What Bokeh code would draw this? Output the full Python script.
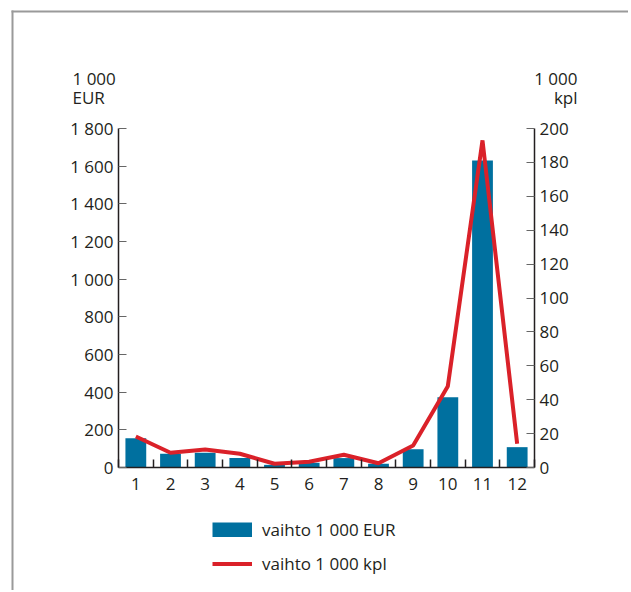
from bokeh.plotting import figure
from bokeh.models import (Range1d, LinearAxis, FixedTicker, Label, Legend, LegendItem,
                          BoxAnnotation, ColumnDataSource)
from bokeh.embed import file_html
from bokeh.resources import INLINE

months = [1, 2, 3, 4, 5, 6, 7, 8, 9, 10, 11, 12]
eur_values = [155, 73, 78, 51, 14, 25, 50, 20, 97, 373, 1630, 108]
kpl_values = [18.3, 8.7, 10.6, 8.1, 2.2, 3.4, 7.5, 2.5, 13, 48, 193, 14]
left_ticks = [0, 200, 400, 600, 800, 1000, 1200, 1400, 1600, 1800]
left_tick_labels = ["0", "200", "400", "600", "800", "1 000", "1 200", "1 400", "1 600", "1 800"]
right_ticks = [0, 20, 40, 60, 80, 100, 120, 140, 160, 180, 200]
month_boundaries = [0.5, 1.5, 2.5, 3.5, 4.5, 5.5, 6.5, 7.5, 8.5, 9.5, 10.5, 11.5, 12.5]
left_title = ["1 000", "EUR"]
right_title = ["1 000", "kpl"]
legend_labels = ["vaihto 1 000 EUR", "vaihto 1 000 kpl"]

FONT = "Open Sans"
TXT = "#231f20"
BLUE = "#00709f"
RED = "#da2129"
TICK = "#666666"
RULE = "#9a9a9a"

# ---- layout geometry (pixels on the canvas) ----
W, H = 628, 590
AX_L, AX_R = 118, 534          # x of left / right axis lines
AX_TOP, AX_BOT = 128, 467      # y of top tick / zero line
X0, X1 = 0.5, 12.5
Y0, Y1 = 0, 1800
K0, K1 = 0, 200

def xr(px):  # canvas px -> x data
    return X0 + (px - AX_L) * (X1 - X0) / (AX_R - AX_L)

def yr(py):  # canvas px -> left-axis data
    return Y0 + (AX_BOT - py) * (Y1 - Y0) / (AX_BOT - AX_TOP)

def kr(py):
    return K0 + (AX_BOT - py) * (K1 - K0) / (AX_BOT - AX_TOP)

src = ColumnDataSource(dict(x=months, eur=eur_values, kpl=kpl_values))

p = figure(width=W, height=H, output_backend="svg", toolbar_location=None,
           x_range=Range1d(xr(0), xr(W)), y_range=Range1d(yr(H), yr(0)),
           x_axis_location=None, y_axis_location=None,
           min_border=0, background_fill_color="white", border_fill_color="white")
p.outline_line_color = None
p.grid.visible = False
p.extra_y_ranges = {"kpl": Range1d(kr(H), kr(0))}

bars = p.vbar(x="x", top="eur", width=0.6, source=src, fill_color=BLUE, line_color=None)
line = p.line(x="x", y="kpl", source=src, y_range_name="kpl", line_color=RED,
              line_width=4, line_join="bevel")
# hidden renderer used only to draw a solid 40x15 swatch for the bars in the legend
bar_swatch = p.line(x="x", y="eur", source=src, line_color=BLUE, line_width=15,
                    line_cap="butt", visible=False)

def style(ax, size="17px"):
    ax.axis_line_color = TXT
    ax.axis_line_width = 1.5
    ax.major_label_text_font = FONT
    ax.major_label_text_font_size = size
    ax.major_label_text_color = TXT

# x axis
xa = LinearAxis(fixed_location=0, bounds=(X0, X1),
                ticker=FixedTicker(ticks=months, minor_ticks=month_boundaries))
style(xa)
xa.major_tick_line_color = None
xa.minor_tick_in = 8
xa.minor_tick_out = 0
xa.minor_tick_line_color = TXT
xa.minor_tick_line_width = 1.5
xa.major_label_standoff = 4
p.add_layout(xa, "below")

# left axis
ya = LinearAxis(fixed_location=X0, bounds=(Y0, Y1), ticker=FixedTicker(ticks=left_ticks))
style(ya)
ya.major_label_overrides = {t: l for t, l in zip(left_ticks, left_tick_labels)}
ya.major_tick_in = 8
ya.major_tick_out = 0
ya.major_tick_line_color = TICK
ya.major_tick_line_width = 1.2
ya.minor_tick_line_color = None
ya.major_label_standoff = 5
p.add_layout(ya, "left")

# right axis
ra = LinearAxis(y_range_name="kpl", fixed_location=X1, bounds=(K0, K1),
                ticker=FixedTicker(ticks=right_ticks))
style(ra)
ra.major_tick_in = 8
ra.major_tick_out = 0
ra.major_tick_line_color = TICK
ra.major_tick_line_width = 1.2
ra.minor_tick_line_color = None
ra.major_label_standoff = 5
p.add_layout(ra, "right")

# axis unit titles
for txt, py in zip(left_title, [78, 97]):
    p.add_layout(Label(x=xr(72), y=yr(py), text=txt, text_align="left", text_baseline="middle",
                       text_font=FONT, text_font_size="17px", text_color=TXT))
for txt, py in zip(right_title, [78, 97]):
    p.add_layout(Label(x=xr(577), y=yr(py), text=txt, text_align="right", text_baseline="middle",
                       text_font=FONT, text_font_size="17px", text_color=TXT))

# legend below the chart
legend = Legend(items=[LegendItem(label=legend_labels[0], renderers=[bar_swatch]),
                       LegendItem(label=legend_labels[1], renderers=[line])],
                location=(212, H - 575), orientation="vertical",
                glyph_width=40, glyph_height=15, label_height=20, spacing=11,
                label_standoff=10, padding=0, margin=0,
                border_line_color=None, background_fill_alpha=0,
                inactive_fill_alpha=0,
                label_text_font=FONT, label_text_font_size="17px", label_text_color=TXT)
p.add_layout(legend, "center")

# page frame (top and left rule)
p.add_layout(BoxAnnotation(left=xr(11), right=xr(W), top=yr(10), bottom=yr(12),
                           fill_color=RULE, fill_alpha=1, line_color=None))
p.add_layout(BoxAnnotation(left=xr(11), right=xr(13), top=yr(10), bottom=yr(H),
                           fill_color=RULE, fill_alpha=1, line_color=None))

open("out.html", "w").write(file_html(p, INLINE))
